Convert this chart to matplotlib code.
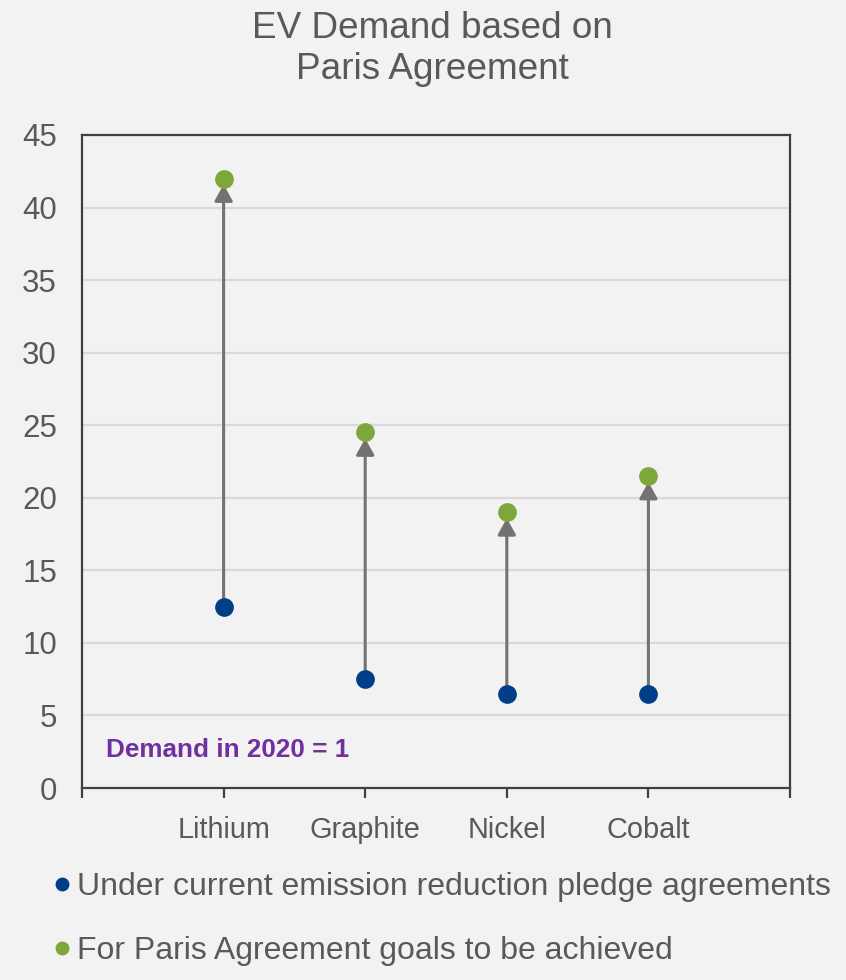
import matplotlib
matplotlib.use("Agg")
import matplotlib.pyplot as plt
from matplotlib.lines import Line2D

plt.rcParams['font.family'] = ['Liberation Sans', 'DejaVu Sans']

categories = ["Lithium", "Graphite", "Nickel", "Cobalt"]
current_pledges = [12.5, 7.5, 6.5, 6.5]
paris_goals = [42, 24.5, 19, 21.5]
y_ticks = [0, 5, 10, 15, 20, 25, 30, 35, 40, 45]
series_labels = ["Under current emission reduction pledge agreements",
                 "For Paris Agreement goals to be achieved"]
title = "EV Demand based on\nParis Agreement"
note = "Demand in 2020 = 1"

BG = "#f2f2f2"
BLUE = "#003f87"
GREEN = "#7fa63a"
GRAY_ARROW = "#767171"
TEXT = "#595959"
SPINE = "#404040"
PURPLE = "#7030a0"

fig = plt.figure(figsize=(8.46, 9.80), dpi=100, facecolor=BG)
ax = fig.add_axes([82/846, 1-788/980, (790-82)/846, (788-135)/980])
ax.set_facecolor(BG)

xs = list(range(1, len(categories) + 1))
ax.set_xlim(0, len(categories) + 1)
ax.set_ylim(0, 45)

# gridlines
for yv in y_ticks[1:-1]:
    ax.axhline(yv, color="#d9d9d9", lw=1.6, zorder=0)

# arrows
for x, a, b in zip(xs, current_pledges, paris_goals):
    ax.annotate("", xy=(x, b), xytext=(x, a),
                arrowprops=dict(arrowstyle="-|>,head_length=0.45,head_width=0.25",
                                color=GRAY_ARROW, lw=2.2, mutation_scale=22,
                                shrinkA=0, shrinkB=4.3),
                zorder=2)

ax.plot(xs, current_pledges, 'o', color=BLUE, ms=13.5, mec='none', zorder=3)
ax.plot(xs, paris_goals, 'o', color=GREEN, ms=13.5, mec='none', zorder=3)

# spines
for s in ax.spines.values():
    s.set_color(SPINE)
    s.set_linewidth(1.6)

ax.set_yticks(y_ticks)
ax.set_yticklabels([str(v) for v in y_ticks])
ax.tick_params(axis='y', length=0, pad=18, labelsize=22.5, labelcolor=TEXT)

ax.set_xticks(range(0, len(categories) + 2))
ax.set_xticklabels([""] + categories + [""])
ax.tick_params(axis='x', direction='out', length=7, width=1.6, color=SPINE,
               pad=13, labelsize=20.8, labelcolor=TEXT)

ax.text(106/846, 1-750/980, note, transform=fig.transFigure, fontsize=18.8,
        fontweight='bold', color=PURPLE, va='center', ha='left')

fig.text(432/846, 1-49/980, title, ha='center', va='center', fontsize=26.6,
         color=TEXT, linespacing=1.25)

handles = [Line2D([], [], marker='o', ls='none', color=BLUE, ms=10, mec='none'),
           Line2D([], [], marker='o', ls='none', color=GREEN, ms=10, mec='none')]
leg = fig.legend(handles, series_labels, loc='upper left',
                 bbox_to_anchor=(53/846, 1-872/980), frameon=False,
                 fontsize=23, labelcolor=TEXT, handlelength=0.55,
                 handletextpad=0.2, labelspacing=1.07, borderpad=0, borderaxespad=0)

fig.savefig("out.png", dpi=100, facecolor=BG)
